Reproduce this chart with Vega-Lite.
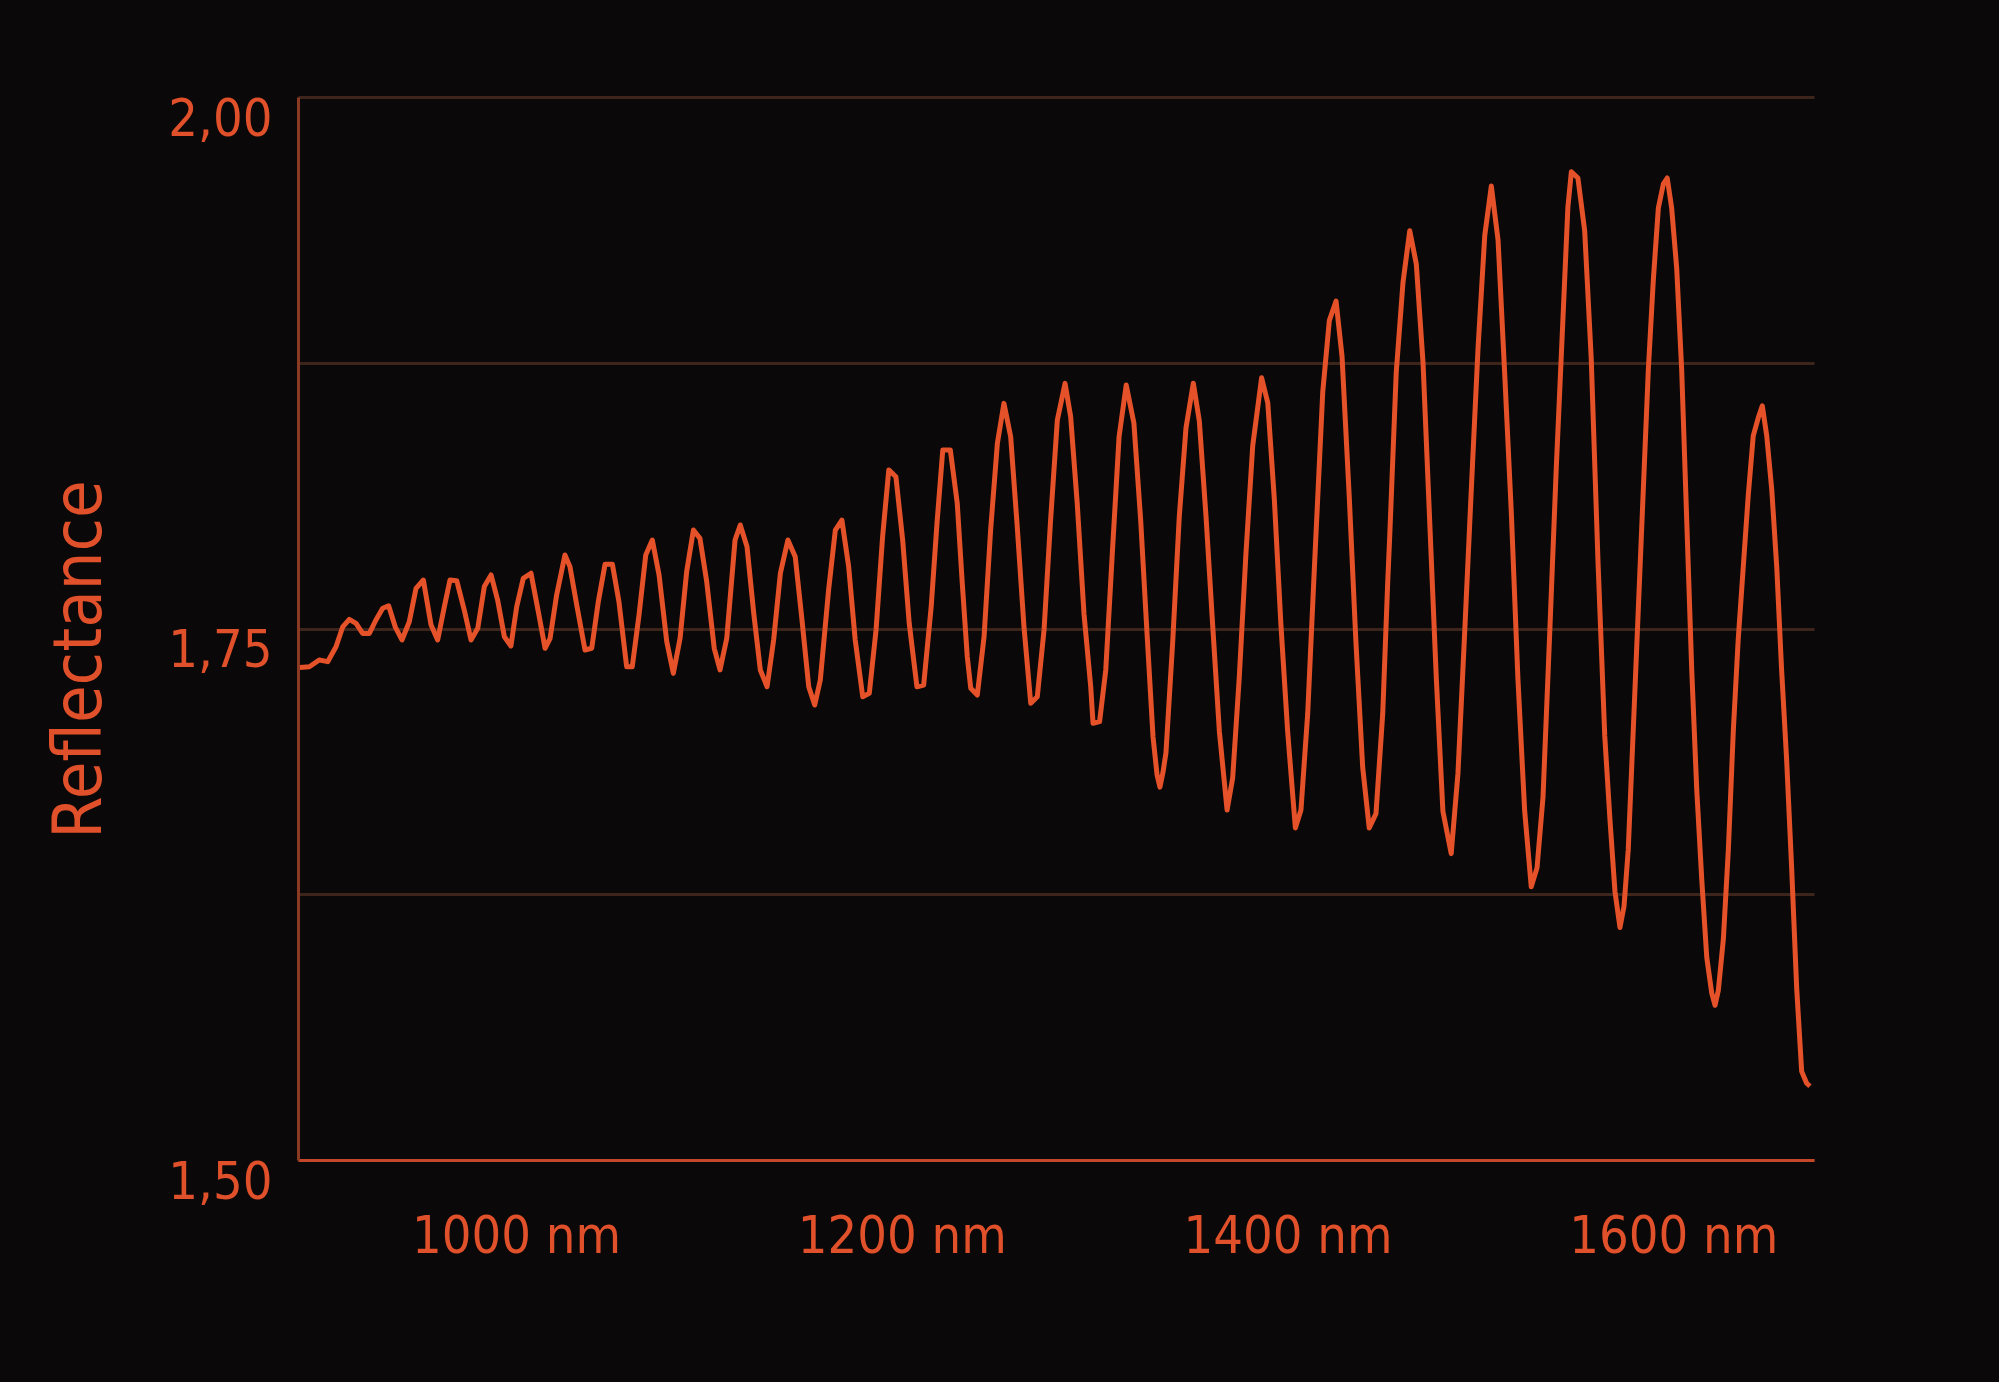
{
  "$schema": "https://vega.github.io/schema/vega-lite/v6.json",
  "autosize": {"type": "none"},
  "padding": {"left": 298, "top": 97, "right": 185, "bottom": 222},
  "width": 1516,
  "height": 1063,
  "background": "#0a0808",
  "config": {
    "view": {"stroke": null},
    "font": "DejaVu Sans Condensed, Liberation Sans Narrow, Roboto, sans-serif",
    "line": {"strokeWidth": 5}
  },
  "data": {
    "values": [
      {"wl": 888.0, "r": 1.7317}, {"wl": 892.9, "r": 1.7320}, {"wl": 898.0, "r": 1.7352}, {"wl": 902.4, "r": 1.7344},
      {"wl": 906.7, "r": 1.7414}, {"wl": 910.2, "r": 1.7508}, {"wl": 913.6, "r": 1.7543}, {"wl": 917.1, "r": 1.7524},
      {"wl": 920.5, "r": 1.7477}, {"wl": 924.0, "r": 1.7477}, {"wl": 927.4, "r": 1.7540}, {"wl": 930.9, "r": 1.7595},
      {"wl": 934.0, "r": 1.7607}, {"wl": 937.4, "r": 1.7508}, {"wl": 940.9, "r": 1.7446}, {"wl": 944.7, "r": 1.7532},
      {"wl": 948.2, "r": 1.7689}, {"wl": 952.0, "r": 1.7728}, {"wl": 956.0, "r": 1.7516}, {"wl": 959.4, "r": 1.7446},
      {"wl": 962.9, "r": 1.7603}, {"wl": 965.8, "r": 1.7728}, {"wl": 969.3, "r": 1.7725}, {"wl": 973.2, "r": 1.7587},
      {"wl": 976.7, "r": 1.7446}, {"wl": 980.2, "r": 1.7501}, {"wl": 983.6, "r": 1.7697}, {"wl": 987.1, "r": 1.7752},
      {"wl": 990.5, "r": 1.7634}, {"wl": 994.0, "r": 1.7461}, {"wl": 997.4, "r": 1.7418}, {"wl": 1000.4, "r": 1.7603},
      {"wl": 1003.8, "r": 1.7736}, {"wl": 1007.8, "r": 1.7760}, {"wl": 1011.6, "r": 1.7579}, {"wl": 1015.1, "r": 1.7407},
      {"wl": 1017.7, "r": 1.7454}, {"wl": 1021.1, "r": 1.7658}, {"wl": 1025.4, "r": 1.7846}, {"wl": 1028.0, "r": 1.7791},
      {"wl": 1031.5, "r": 1.7611}, {"wl": 1035.8, "r": 1.7399}, {"wl": 1039.3, "r": 1.7407}, {"wl": 1042.7, "r": 1.7626},
      {"wl": 1046.2, "r": 1.7802}, {"wl": 1050.0, "r": 1.7802}, {"wl": 1053.4, "r": 1.7626}, {"wl": 1057.4, "r": 1.7320},
      {"wl": 1060.3, "r": 1.7320}, {"wl": 1063.8, "r": 1.7563}, {"wl": 1067.3, "r": 1.7846}, {"wl": 1070.7, "r": 1.7916},
      {"wl": 1074.2, "r": 1.7752}, {"wl": 1078.2, "r": 1.7438}, {"wl": 1081.6, "r": 1.7289}, {"wl": 1085.1, "r": 1.7454},
      {"wl": 1088.5, "r": 1.7767}, {"wl": 1092.0, "r": 1.7963}, {"wl": 1095.4, "r": 1.7924}, {"wl": 1098.9, "r": 1.7720},
      {"wl": 1102.8, "r": 1.7407}, {"wl": 1105.8, "r": 1.7305}, {"wl": 1109.3, "r": 1.7454}, {"wl": 1113.6, "r": 1.7916},
      {"wl": 1116.3, "r": 1.7987}, {"wl": 1119.8, "r": 1.7885}, {"wl": 1123.3, "r": 1.7571}, {"wl": 1126.7, "r": 1.7305},
      {"wl": 1130.2, "r": 1.7226}, {"wl": 1133.6, "r": 1.7446}, {"wl": 1137.1, "r": 1.7760}, {"wl": 1141.0, "r": 1.7916},
      {"wl": 1144.8, "r": 1.7838}, {"wl": 1148.3, "r": 1.7540}, {"wl": 1151.8, "r": 1.7226}, {"wl": 1154.9, "r": 1.7140},
      {"wl": 1157.8, "r": 1.7258}, {"wl": 1162.1, "r": 1.7681}, {"wl": 1165.6, "r": 1.7963}, {"wl": 1169.0, "r": 1.8010},
      {"wl": 1172.5, "r": 1.7791}, {"wl": 1175.9, "r": 1.7446}, {"wl": 1179.8, "r": 1.7179}, {"wl": 1183.2, "r": 1.7195},
      {"wl": 1186.7, "r": 1.7493}, {"wl": 1190.1, "r": 1.7932}, {"wl": 1193.3, "r": 1.8246}, {"wl": 1197.0, "r": 1.8214},
      {"wl": 1200.5, "r": 1.7916}, {"wl": 1203.9, "r": 1.7524}, {"wl": 1207.9, "r": 1.7226}, {"wl": 1211.4, "r": 1.7234},
      {"wl": 1215.3, "r": 1.7603}, {"wl": 1218.3, "r": 1.7995}, {"wl": 1221.3, "r": 1.8340}, {"wl": 1225.2, "r": 1.8340},
      {"wl": 1228.8, "r": 1.8089}, {"wl": 1231.4, "r": 1.7713}, {"wl": 1234.0, "r": 1.7367}, {"wl": 1235.8, "r": 1.7219},
      {"wl": 1239.2, "r": 1.7187}, {"wl": 1242.7, "r": 1.7461}, {"wl": 1246.1, "r": 1.7963}, {"wl": 1249.6, "r": 1.8371},
      {"wl": 1253.0, "r": 1.8559}, {"wl": 1256.5, "r": 1.8402}, {"wl": 1259.9, "r": 1.7979}, {"wl": 1263.4, "r": 1.7508},
      {"wl": 1266.9, "r": 1.7148}, {"wl": 1270.3, "r": 1.7179}, {"wl": 1273.8, "r": 1.7493}, {"wl": 1277.2, "r": 1.8010},
      {"wl": 1280.7, "r": 1.8481}, {"wl": 1284.7, "r": 1.8653}, {"wl": 1287.6, "r": 1.8496}, {"wl": 1291.0, "r": 1.8089},
      {"wl": 1294.5, "r": 1.7571}, {"wl": 1298.0, "r": 1.7226}, {"wl": 1299.2, "r": 1.7054}, {"wl": 1302.6, "r": 1.7062},
      {"wl": 1305.8, "r": 1.7305}, {"wl": 1309.2, "r": 1.7854}, {"wl": 1312.7, "r": 1.8402}, {"wl": 1316.4, "r": 1.8645},
      {"wl": 1320.4, "r": 1.8465}, {"wl": 1323.9, "r": 1.8010}, {"wl": 1327.3, "r": 1.7461}, {"wl": 1330.3, "r": 1.6991},
      {"wl": 1332.4, "r": 1.6811}, {"wl": 1333.9, "r": 1.6754}, {"wl": 1335.5, "r": 1.6825}, {"wl": 1337.0, "r": 1.6915},
      {"wl": 1340.5, "r": 1.7436}, {"wl": 1343.9, "r": 1.8024}, {"wl": 1347.4, "r": 1.8444}, {"wl": 1351.2, "r": 1.8654},
      {"wl": 1354.3, "r": 1.8477}, {"wl": 1357.8, "r": 1.8024}, {"wl": 1361.2, "r": 1.7520}, {"wl": 1364.7, "r": 1.7016},
      {"wl": 1368.7, "r": 1.6646}, {"wl": 1371.6, "r": 1.6797}, {"wl": 1375.0, "r": 1.7268}, {"wl": 1378.5, "r": 1.7856},
      {"wl": 1382.0, "r": 1.8360}, {"wl": 1386.6, "r": 1.8679}, {"wl": 1389.8, "r": 1.8561}, {"wl": 1393.2, "r": 1.8108},
      {"wl": 1396.6, "r": 1.7520}, {"wl": 1400.1, "r": 1.7016}, {"wl": 1404.1, "r": 1.6562}, {"wl": 1407.0, "r": 1.6646},
      {"wl": 1410.5, "r": 1.7100}, {"wl": 1413.9, "r": 1.7772}, {"wl": 1418.3, "r": 1.8612}, {"wl": 1421.7, "r": 1.8948},
      {"wl": 1425.2, "r": 1.9040}, {"wl": 1428.3, "r": 1.8780}, {"wl": 1432.1, "r": 1.8108}, {"wl": 1435.5, "r": 1.7436},
      {"wl": 1439.0, "r": 1.6848}, {"wl": 1442.4, "r": 1.6562}, {"wl": 1445.9, "r": 1.6629}, {"wl": 1449.4, "r": 1.7100},
      {"wl": 1452.0, "r": 1.7722}, {"wl": 1453.0, "r": 1.7928}, {"wl": 1456.4, "r": 1.8705}, {"wl": 1459.9, "r": 1.9127},
      {"wl": 1463.4, "r": 1.9371}, {"wl": 1466.8, "r": 1.9215}, {"wl": 1470.3, "r": 1.8749}, {"wl": 1473.7, "r": 1.8016},
      {"wl": 1477.2, "r": 1.7262}, {"wl": 1480.6, "r": 1.6640}, {"wl": 1484.9, "r": 1.6441}, {"wl": 1488.4, "r": 1.6818},
      {"wl": 1491.9, "r": 1.7484}, {"wl": 1495.3, "r": 1.8150}, {"wl": 1498.8, "r": 1.8816}, {"wl": 1502.3, "r": 1.9349},
      {"wl": 1505.7, "r": 1.9581}, {"wl": 1509.2, "r": 1.9326}, {"wl": 1512.6, "r": 1.8705}, {"wl": 1516.1, "r": 1.8039},
      {"wl": 1519.5, "r": 1.7262}, {"wl": 1523.0, "r": 1.6640}, {"wl": 1526.4, "r": 1.6285}, {"wl": 1529.4, "r": 1.6374},
      {"wl": 1532.5, "r": 1.6707}, {"wl": 1536.0, "r": 1.7484}, {"wl": 1539.4, "r": 1.8261}, {"wl": 1542.9, "r": 1.8971},
      {"wl": 1545.4, "r": 1.9482}, {"wl": 1547.2, "r": 1.9648}, {"wl": 1550.6, "r": 1.9619}, {"wl": 1554.1, "r": 1.9371},
      {"wl": 1557.5, "r": 1.8771}, {"wl": 1561.0, "r": 1.7817}, {"wl": 1564.5, "r": 1.6996}, {"wl": 1567.2, "r": 1.6602},
      {"wl": 1569.8, "r": 1.6263}, {"wl": 1572.4, "r": 1.6094}, {"wl": 1574.5, "r": 1.6193}, {"wl": 1576.7, "r": 1.6461},
      {"wl": 1579.3, "r": 1.7025}, {"wl": 1581.9, "r": 1.7589}, {"wl": 1584.5, "r": 1.8153}, {"wl": 1587.1, "r": 1.8717},
      {"wl": 1589.7, "r": 1.9140}, {"wl": 1592.3, "r": 1.9478}, {"wl": 1594.9, "r": 1.9591}, {"wl": 1596.9, "r": 1.9619},
      {"wl": 1599.2, "r": 1.9478}, {"wl": 1601.8, "r": 1.9196}, {"wl": 1604.4, "r": 1.8717}, {"wl": 1607.0, "r": 1.8012},
      {"wl": 1609.6, "r": 1.7307}, {"wl": 1612.2, "r": 1.6743}, {"wl": 1614.8, "r": 1.6320}, {"wl": 1617.4, "r": 1.5953},
      {"wl": 1620.0, "r": 1.5784}, {"wl": 1621.7, "r": 1.5728}, {"wl": 1623.4, "r": 1.5798}, {"wl": 1626.0, "r": 1.6038},
      {"wl": 1628.6, "r": 1.6461}, {"wl": 1631.2, "r": 1.7025}, {"wl": 1633.7, "r": 1.7448}, {"wl": 1636.3, "r": 1.7786},
      {"wl": 1638.9, "r": 1.8125}, {"wl": 1641.5, "r": 1.8406}, {"wl": 1644.1, "r": 1.8491}, {"wl": 1646.2, "r": 1.8547},
      {"wl": 1648.5, "r": 1.8406}, {"wl": 1651.1, "r": 1.8153}, {"wl": 1653.7, "r": 1.7786}, {"wl": 1656.2, "r": 1.7307},
      {"wl": 1658.8, "r": 1.6884}, {"wl": 1661.4, "r": 1.6376}, {"wl": 1664.0, "r": 1.5812}, {"wl": 1666.6, "r": 1.5417},
      {"wl": 1669.2, "r": 1.5361}, {"wl": 1670.9, "r": 1.5347}
    ]
  },
  "mark": {"type": "line", "color": "#e5522a", "strokeWidth": 5, "strokeJoin": "round", "interpolate": "linear", "clip": true},
  "encoding": {
    "x": {
      "field": "wl",
      "type": "quantitative",
      "scale": {"domain": [887, 1673], "nice": false, "zero": false},
      "axis": {
        "values": [1000, 1200, 1400, 1600],
        "labelExpr": "datum.value + ' nm'",
        "title": null,
        "grid": false,
        "ticks": false,
        "tickSize": 0,
        "domainColor": "#c4472a",
        "domainWidth": 3,
        "labelColor": "#e0502a",
        "labelFont": "DejaVu Sans Condensed, Liberation Sans Narrow, Roboto, sans-serif",
        "labelFontSize": 52,
        "labelLimit": 0,
        "labelBaseline": "alphabetic",
        "labelPadding": 92,
        "labelFlush": false,
        "labelOverlap": false
      }
    },
    "y": {
      "field": "r",
      "type": "quantitative",
      "scale": {"domain": [1.5, 2.0], "nice": false, "zero": false},
      "axis": {
        "values": [1.5, 1.625, 1.75, 1.875, 2.0],
        "labelExpr": "datum.value == 1.5 ? '1,50' : datum.value == 1.75 ? '1,75' : datum.value == 2 ? '2,00' : ''",
        "title": "Reflectance",
        "titleFont": "DejaVu Sans Condensed, Liberation Sans Narrow, Roboto, sans-serif",
        "titleFontSize": 68,
        "titleFontWeight": "normal",
        "titleColor": "#e0502a",
        "titleAngle": -90,
        "titleAlign": "center",
        "titleBaseline": "alphabetic",
        "titleLimit": 0,
        "titleX": -198,
        "titleY": 562,
        "grid": true,
        "gridColor": "#3d251b",
        "gridWidth": 3,
        "ticks": false,
        "tickSize": 0,
        "domainColor": "#8a3a22",
        "domainWidth": 3,
        "labelColor": "#e0502a",
        "labelFont": "DejaVu Sans Condensed, Liberation Sans Narrow, Roboto, sans-serif",
        "labelFontSize": 52,
        "labelLimit": 0,
        "labelAlign": "right",
        "labelBaseline": "alphabetic",
        "labelOffset": 38,
        "labelPadding": 26,
        "labelFlush": false,
        "labelOverlap": false
      }
    }
  }
}
